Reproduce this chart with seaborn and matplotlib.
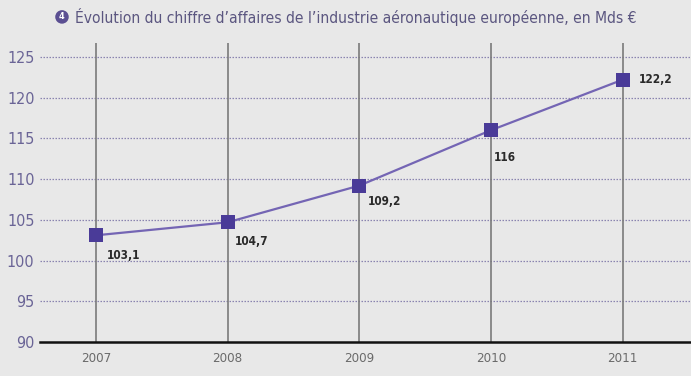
import matplotlib
matplotlib.use('Agg')
import matplotlib.pyplot as plt
import seaborn as sns
import pandas as pd

# Données
annees = [2007, 2008, 2009, 2010, 2011]
ca_mds = [103.1, 104.7, 109.2, 116.0, 122.2]
etiquettes = ['103,1', '104,7', '109,2', '116', '122,2']
y_ticks = [90, 95, 100, 105, 110, 115, 120, 125]
titre = "Évolution du chiffre d’affaires de l’industrie aéronautique européenne, en Mds €"

sns.set_theme(style='white')
plt.rcParams['font.family'] = ['DejaVu Sans']
plt.rcParams['font.stretch'] = 'condensed'

bg = '#e8e8e8'
violet = '#4a3b98'
violet_ligne = '#7465b4'
gris_texte = '#6a6496'

fig = plt.figure(figsize=(6.91, 3.76), dpi=100, facecolor=bg)
ax = fig.add_axes([0.058, 0.0904, 0.942, 0.795])
ax.set_facecolor(bg)

df = pd.DataFrame({'annee': annees, 'ca': ca_mds})

# grille
for y in y_ticks[1:]:
    ax.axhline(y, color='#8a84b0', linestyle=(0, (1.2, 1.2)), linewidth=0.9, zorder=1)
for x in annees:
    ax.axvline(x, color='#7a7a7a', linewidth=1.2, zorder=1)

sns.lineplot(data=df, x='annee', y='ca', ax=ax, color=violet_ligne, linewidth=1.6,
             zorder=3)
sns.scatterplot(data=df, x='annee', y='ca', ax=ax, marker='s', s=110, color=violet,
                edgecolor=violet, linewidth=0, zorder=4)

# étiquettes
offsets = [(8, -10), (5, -9), (6, -7), (2, -15), (12, 0)]
for x, y, lab, (dx, dy) in zip(annees, ca_mds, etiquettes, offsets):
    va = 'center' if dy == 0 else 'top'
    ax.annotate(lab, (x, y), xytext=(dx, dy), textcoords='offset points',
                ha='left', va=va, fontsize=8.5, fontweight='bold', color='#2a2a2a')

ax.set_xlim(2006.575, 2011.52)
ax.set_ylim(90, 126.7)
ax.set_yticks(y_ticks)
ax.set_xticks(annees)
ax.set_xticklabels([str(a) for a in annees])
ax.tick_params(axis='y', length=0, pad=4, labelsize=11.5, labelcolor=gris_texte)
ax.tick_params(axis='x', length=0, pad=7, labelsize=9.5, labelcolor='#6a6a6a')
ax.set_xlabel('')
ax.set_ylabel('')

for s in ['top', 'right', 'left']:
    ax.spines[s].set_visible(False)
ax.spines['bottom'].set_color('#111111')
ax.spines['bottom'].set_linewidth(1.8)

# titre avec pastille numérotée
fig.text(0.0897, 0.955, '4', ha='center', va='center', fontsize=6.5, color='white',
         fontweight='bold',
         bbox=dict(boxstyle='circle,pad=0.25', facecolor='#5b4f92', edgecolor='none'))
fig.text(0.108, 0.955, titre, ha='left', va='center', fontsize=11.2, color='#5b5680')

plt.savefig('out.png', dpi=100, facecolor=bg)
